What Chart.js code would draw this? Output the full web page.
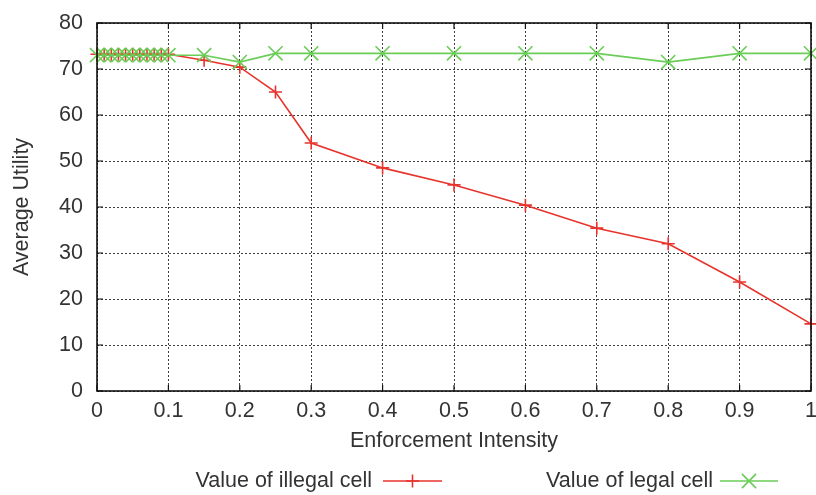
<!DOCTYPE html>
<html>
<head>
<meta charset="utf-8">
<script src="https://cdn.jsdelivr.net/npm/chart.js@4/dist/chart.umd.min.js"></script>
<style>
  html, body { margin: 0; padding: 0; background: #fff; overflow: hidden; }
  #wrap { width: 816px; height: 495px; }
</style>
</head>
<body>
<div id="wrap"><canvas id="chart"></canvas></div>
<script>
// --- data ---
const xValues = [0, 0.01, 0.02, 0.03, 0.04, 0.05, 0.06, 0.07, 0.08, 0.09, 0.1,
                 0.15, 0.2, 0.25, 0.3, 0.4, 0.5, 0.6, 0.7, 0.8, 0.9, 1];
const illegalValues = [73.2, 73.2, 73.2, 73.2, 73.2, 73.2, 73.2, 73.2, 73.2, 73.2, 73.2,
                       71.9, 70.4, 65, 53.9, 48.5, 44.8, 40.4, 35.4, 32, 23.7, 14.6];
const legalValues = [73, 73, 73, 73, 73, 73, 73, 73, 73, 73, 73,
                     73, 71.5, 73.4, 73.4, 73.4, 73.4, 73.4, 73.4, 71.5, 73.4, 73.4];
const seriesNames = ['Value of illegal cell', 'Value of legal cell'];
const xTitle = 'Enforcement Intensity';
const yTitle = 'Average Utility';

const RED = '#e8332c';
const GREEN = '#6acd57';
const TEXT = '#333';
const FONT = "'Liberation Sans', Arial, sans-serif";
const FSIZE = 21.5;

const toPoints = (ys) => ys.map((y, i) => ({ x: xValues[i], y }));

// gnuplot-style box, inward ticks and legend with sample to the right of the text
const gnuplotFrame = {
    id: 'gnuplotFrame',
    afterDraw(chart) {
        const { ctx, chartArea: a, scales } = chart;
        ctx.save();
        ctx.setLineDash([]);
        ctx.strokeStyle = '#111';
        ctx.lineWidth = 1.2;
        const tl = 6;
        ctx.beginPath();
        scales.x.ticks.forEach(t => {
            const px = scales.x.getPixelForValue(t.value);
            ctx.moveTo(px, a.bottom); ctx.lineTo(px, a.bottom - tl);
            ctx.moveTo(px, a.top); ctx.lineTo(px, a.top + tl);
        });
        scales.y.ticks.forEach(t => {
            const py = scales.y.getPixelForValue(t.value);
            ctx.moveTo(a.left, py); ctx.lineTo(a.left + tl, py);
            ctx.moveTo(a.right, py); ctx.lineTo(a.right - tl, py);
        });
        ctx.stroke();
        ctx.lineWidth = 1.6;
        ctx.strokeRect(a.left, a.top, a.right - a.left, a.bottom - a.top);

        // legend
        ctx.font = FSIZE + 'px ' + FONT;
        ctx.fillStyle = TEXT;
        ctx.textAlign = 'right';
        ctx.textBaseline = 'middle';
        const legendY = 481;
        const entries = [
            { textRight: 372, lineL: 383, lineR: 442 },
            { textRight: 713, lineL: 720, lineR: 778 }
        ];
        chart.data.datasets.forEach((ds, i) => {
            const e = entries[i];
            ctx.fillText(ds.label, e.textRight, legendY);
            ctx.strokeStyle = ds.borderColor;
            ctx.lineWidth = ds.borderWidth;
            ctx.beginPath();
            ctx.moveTo(e.lineL, legendY); ctx.lineTo(e.lineR, legendY);
            ctx.stroke();
            Chart.helpers.drawPoint(ctx, {
                pointStyle: ds.pointStyle, radius: ds.pointRadius,
                borderWidth: ds.pointBorderWidth, rotation: 0
            }, (e.lineL + e.lineR) / 2, legendY);
        });
        ctx.restore();
    }
};

new Chart(document.getElementById('chart'), {
    type: 'scatter',
    data: {
        datasets: [
            {
                label: seriesNames[0],
                data: toPoints(illegalValues),
                showLine: true,
                borderColor: RED,
                backgroundColor: RED,
                borderWidth: 1.6,
                pointStyle: 'cross',
                pointRadius: 6.5,
                pointBorderWidth: 1.6,
                order: 1,
                clip: false
            },
            {
                label: seriesNames[1],
                data: toPoints(legalValues),
                showLine: true,
                borderColor: GREEN,
                backgroundColor: GREEN,
                borderWidth: 1.6,
                pointStyle: 'crossRot',
                pointRadius: 10,
                pointBorderWidth: 1.6,
                order: 0,
                clip: false
            }
        ]
    },
    options: {
        responsive: true,
        maintainAspectRatio: false,
        animation: false,
        layout: { autoPadding: false, padding: { left: 0, top: 23, right: 5, bottom: 0 } },
        plugins: {
            legend: { display: false },
            tooltip: { enabled: false }
        },
        scales: {
            x: {
                type: 'linear',
                min: 0, max: 1,
                ticks: {
                    stepSize: 0.1, color: TEXT, padding: 7, font: { family: FONT, size: FSIZE },
                    callback: (v) => String(Math.round(v * 10) / 10)
                },
                grid: { color: 'rgba(0,0,0,0.75)', lineWidth: 1, drawTicks: false },
                border: { display: false, dash: [2, 2] },
                title: { display: true, text: xTitle, color: TEXT, font: { family: FONT, size: FSIZE }, padding: { top: 4, bottom: 41 } },
                afterFit(scale) { scale.height = 104; scale.paddingLeft = 0; scale.paddingRight = 0; }
            },
            y: {
                min: 0, max: 80,
                ticks: { stepSize: 10, color: TEXT, padding: 14, font: { family: FONT, size: FSIZE } },
                grid: { color: 'rgba(0,0,0,0.75)', lineWidth: 1, drawTicks: false },
                border: { display: false, dash: [2, 2] },
                title: { display: true, text: yTitle, color: TEXT, font: { family: FONT, size: FSIZE }, padding: { top: 9, bottom: 0 } },
                afterFit(scale) { scale.width = 97; scale.paddingTop = 0; scale.paddingBottom = 0; }
            }
        }
    },
    plugins: [gnuplotFrame]
});
</script>
</body>
</html>
